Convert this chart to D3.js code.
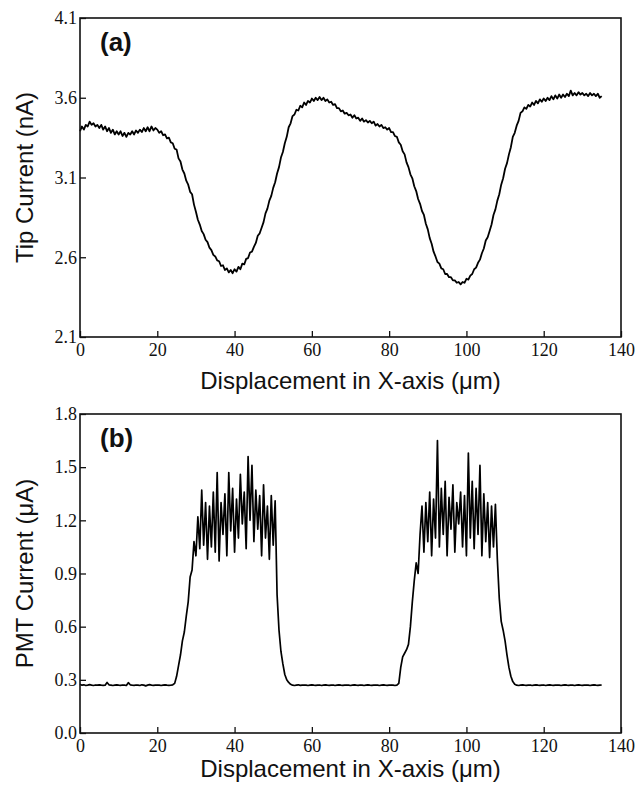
<!DOCTYPE html>
<html>
<head>
<meta charset="utf-8">
<script src="https://cdn.jsdelivr.net/npm/d3@7"></script>
<style>
  body { margin: 0; background: #fff; }
</style>
</head>
<body>
<svg id="chart" width="637" height="785"></svg>
<script>
// sample spacing of both traces, in um
var sampleStep = 0.5;

// (a) tip current, nA, one value every 0.5 um from 0 to 135 um
var tipCurrent = [
  3.39, 3.42, 3.40, 3.43, 3.42, 3.45, 3.43, 3.44, 3.42, 3.43,
  3.41, 3.43, 3.40, 3.42, 3.39, 3.41, 3.38, 3.40, 3.37, 3.39,
  3.37, 3.39, 3.36, 3.38, 3.355, 3.38, 3.37, 3.39, 3.37, 3.395,
  3.38, 3.40, 3.385, 3.41, 3.39, 3.415, 3.39, 3.42, 3.395, 3.41,
  3.40, 3.38, 3.39, 3.365, 3.37, 3.345, 3.35, 3.32, 3.315, 3.28,
  3.275, 3.22, 3.20, 3.15, 3.125, 3.08, 3.055, 3.01, 2.995, 2.93,
  2.885, 2.835, 2.805, 2.765, 2.745, 2.71, 2.695, 2.66, 2.645, 2.615,
  2.605, 2.58, 2.575, 2.545, 2.55, 2.52, 2.53, 2.505, 2.52, 2.50,
  2.525, 2.51, 2.54, 2.525, 2.56, 2.555, 2.59, 2.595, 2.63, 2.635,
  2.665, 2.69, 2.735, 2.75, 2.785, 2.82, 2.875, 2.905, 2.955, 2.985,
  3.035, 3.07, 3.125, 3.165, 3.225, 3.26, 3.315, 3.355, 3.415, 3.44,
  3.485, 3.495, 3.525, 3.52, 3.55, 3.54, 3.57, 3.555, 3.58, 3.57,
  3.595, 3.58, 3.60, 3.585, 3.605, 3.585, 3.60, 3.58, 3.59, 3.57,
  3.575, 3.555, 3.56, 3.535, 3.535, 3.515, 3.52, 3.50, 3.505, 3.49,
  3.495, 3.475, 3.49, 3.47, 3.475, 3.455, 3.47, 3.45, 3.46, 3.445,
  3.455, 3.44, 3.45, 3.425, 3.435, 3.42, 3.43, 3.41, 3.415, 3.40,
  3.41, 3.385, 3.385, 3.36, 3.355, 3.32, 3.305, 3.265, 3.245, 3.195,
  3.165, 3.12, 3.095, 3.045, 3.015, 2.965, 2.935, 2.89, 2.865, 2.81,
  2.775, 2.72, 2.685, 2.635, 2.605, 2.57, 2.56, 2.53, 2.525, 2.495,
  2.495, 2.475, 2.475, 2.455, 2.455, 2.44, 2.445, 2.43, 2.445, 2.44,
  2.465, 2.46, 2.485, 2.495, 2.525, 2.535, 2.565, 2.585, 2.625, 2.655,
  2.705, 2.725, 2.765, 2.805, 2.865, 2.90, 2.955, 2.995, 3.055, 3.095,
  3.155, 3.19, 3.245, 3.29, 3.355, 3.38, 3.425, 3.455, 3.505, 3.515,
  3.54, 3.53, 3.555, 3.545, 3.57, 3.555, 3.58, 3.565, 3.59, 3.575,
  3.595, 3.58, 3.60, 3.585, 3.61, 3.59, 3.615, 3.595, 3.62, 3.60,
  3.62, 3.605, 3.625, 3.61, 3.645, 3.615, 3.63, 3.615, 3.635, 3.62,
  3.63, 3.615, 3.625, 3.61, 3.63, 3.615, 3.625, 3.61, 3.625, 3.60,
  3.61
];

// (b) PMT current, uA, same sampling
var pmtCurrent = [
  0.275, 0.270, 0.272, 0.268, 0.270, 0.273, 0.270, 0.268, 0.271, 0.270,
  0.272, 0.270, 0.269, 0.270, 0.285, 0.272, 0.270, 0.268, 0.270, 0.272,
  0.270, 0.269, 0.271, 0.270, 0.268, 0.284, 0.272, 0.270, 0.269, 0.271,
  0.270, 0.268, 0.272, 0.270, 0.266, 0.270, 0.273, 0.270, 0.269, 0.270,
  0.271, 0.270, 0.268, 0.270, 0.272, 0.270, 0.269, 0.270, 0.272, 0.280,
  0.32, 0.38, 0.44, 0.52, 0.57, 0.66, 0.74, 0.88, 0.92, 1.08,
  1.00, 1.22, 1.04, 1.37, 1.06, 1.30, 0.98, 1.28, 1.05, 1.36,
  1.02, 1.47, 0.97, 1.30, 1.12, 1.35, 1.00, 1.47, 1.14, 1.38,
  1.02, 1.32, 1.10, 1.46, 1.18, 1.36, 1.04, 1.56, 1.20, 1.51,
  1.08, 1.37, 1.15, 1.34, 1.00, 1.40, 1.10, 1.28, 0.98, 1.34,
  1.06, 1.31, 0.78, 0.58, 0.46, 0.39, 0.33, 0.30, 0.285, 0.275,
  0.270, 0.268, 0.270, 0.272, 0.269, 0.270, 0.271, 0.270, 0.268, 0.270,
  0.272, 0.270, 0.269, 0.270, 0.271, 0.268, 0.270, 0.272, 0.270, 0.269,
  0.270, 0.271, 0.268, 0.270, 0.272, 0.270, 0.269, 0.270, 0.271, 0.270,
  0.268, 0.270, 0.272, 0.270, 0.269, 0.271, 0.270, 0.268, 0.270, 0.272,
  0.270, 0.269, 0.270, 0.271, 0.270, 0.268, 0.270, 0.272, 0.270, 0.269,
  0.270, 0.271, 0.270, 0.268, 0.270, 0.280, 0.37, 0.43, 0.45, 0.47,
  0.50, 0.60, 0.74, 0.86, 0.96, 0.90, 1.12, 1.28, 1.02, 1.30,
  1.08, 1.36, 1.00, 1.32, 1.10, 1.65, 1.05, 1.38, 1.12, 1.42,
  1.00, 1.33, 1.15, 1.40, 1.02, 1.30, 1.18, 1.36, 1.05, 1.34,
  1.00, 1.58, 1.10, 1.42, 1.04, 1.38, 1.12, 1.51, 1.00, 1.35,
  1.08, 1.30, 0.99, 1.28, 1.05, 1.29, 0.98, 0.76, 0.63, 0.58,
  0.52, 0.44, 0.37, 0.32, 0.29, 0.275, 0.270, 0.268, 0.270, 0.272,
  0.270, 0.269, 0.270, 0.271, 0.268, 0.270, 0.272, 0.270, 0.269, 0.270,
  0.271, 0.268, 0.270, 0.272, 0.270, 0.269, 0.270, 0.271, 0.270, 0.268,
  0.270, 0.272, 0.270, 0.269, 0.271, 0.270, 0.268, 0.270, 0.272, 0.270,
  0.269, 0.270, 0.271, 0.270, 0.268, 0.270, 0.272, 0.270, 0.269, 0.270,
  0.271
];

var xTicks = [0, 20, 40, 60, 80, 100, 120, 140];
var tipTicks = [2.1, 2.6, 3.1, 3.6, 4.1];
var pmtTicks = [0.0, 0.3, 0.6, 0.9, 1.2, 1.5, 1.8];

var xTitle = "Displacement in X-axis (\u03bcm)";

var serif = "'Liberation Serif', 'DejaVu Serif', 'Times New Roman', serif";
var sans = "'Liberation Sans', Arial, sans-serif";

var panels = [
  { tag: "(a)", title: "Tip Current (nA)", values: tipCurrent, yDomain: [2.1, 4.1], ticks: tipTicks,
    top: 18, bottom: 337, width: 1.8, titleGap: 52 },
  { tag: "(b)", title: "PMT Current (\u03bcA)", values: pmtCurrent, yDomain: [0, 1.8], ticks: pmtTicks,
    top: 414, bottom: 733, width: 1.7, titleGap: 44 }
];

var left = 80, right = 621;
var svg = d3.select("#chart");

var xScale = d3.scaleLinear()
               .domain([0, 140])
               .range([left, right]);

panels.forEach(function(p){
  var yScale = d3.scaleLinear()
                 .domain(p.yDomain)
                 .range([p.bottom, p.top]);

  var g = svg.append("g");

  // left axis, ticks pointing inward
  var yAxis = d3.axisLeft(yScale)
                .tickValues(p.ticks)
                .tickSize(-6)
                .tickPadding(3)
                .tickFormat(d3.format(".1f"));
  var ya = g.append("g")
            .attr("transform", "translate(" + left + ",0)")
            .attr("font-family", null)
            .call(yAxis);
  ya.select(".domain").remove();
  ya.selectAll("line").attr("stroke", "#111").attr("stroke-width", 1.3);
  ya.selectAll("text")
    .attr("fill", "#111")
    .style("font-family", serif)
    .style("font-size", "18px");

  var xAxis = d3.axisBottom(xScale)
                .tickValues(xTicks)
                .tickSize(-6)
                .tickPadding(6)
                .tickFormat(d3.format("d"));
  var xa = g.append("g")
            .attr("transform", "translate(0," + p.bottom + ")")
            .call(xAxis);
  xa.select(".domain").remove();
  xa.selectAll("line").attr("stroke", "#111").attr("stroke-width", 1.3);
  xa.selectAll("text")
    .attr("fill", "#111")
    .style("font-family", serif)
    .style("font-size", "18px");

  // trace
  var line = d3.line()
               .x(function(d, i){ return xScale(i * sampleStep); })
               .y(function(d){ return yScale(d); });
  g.append("path")
   .datum(p.values)
   .attr("d", line)
   .attr("fill", "none")
   .attr("stroke", "#000")
   .attr("stroke-width", p.width)
   .attr("stroke-linejoin", "round");

  // frame
  g.append("rect")
   .attr("x", left)
   .attr("y", p.top)
   .attr("width", right - left)
   .attr("height", p.bottom - p.top)
   .attr("fill", "none")
   .attr("stroke", "#111")
   .attr("stroke-width", 1.6);

  g.append("text")
   .attr("x", left + 20)
   .attr("y", p.top + 33)
   .attr("fill", "#111")
   .style("font-family", sans)
   .style("font-size", "26px")
   .style("font-weight", "bold")
   .text(p.tag);

  g.append("text")
   .attr("text-anchor", "middle")
   .attr("transform", "translate(33," + (p.top + p.bottom) / 2 + ") rotate(-90)")
   .attr("fill", "#111")
   .style("font-family", sans)
   .style("font-size", "24px")
   .text(p.title);

  g.append("text")
   .attr("text-anchor", "middle")
   .attr("x", (left + right) / 2)
   .attr("y", p.bottom + p.titleGap)
   .attr("fill", "#111")
   .style("font-family", sans)
   .style("font-size", "24px")
   .text(xTitle);
});
</script>
</body>
</html>
